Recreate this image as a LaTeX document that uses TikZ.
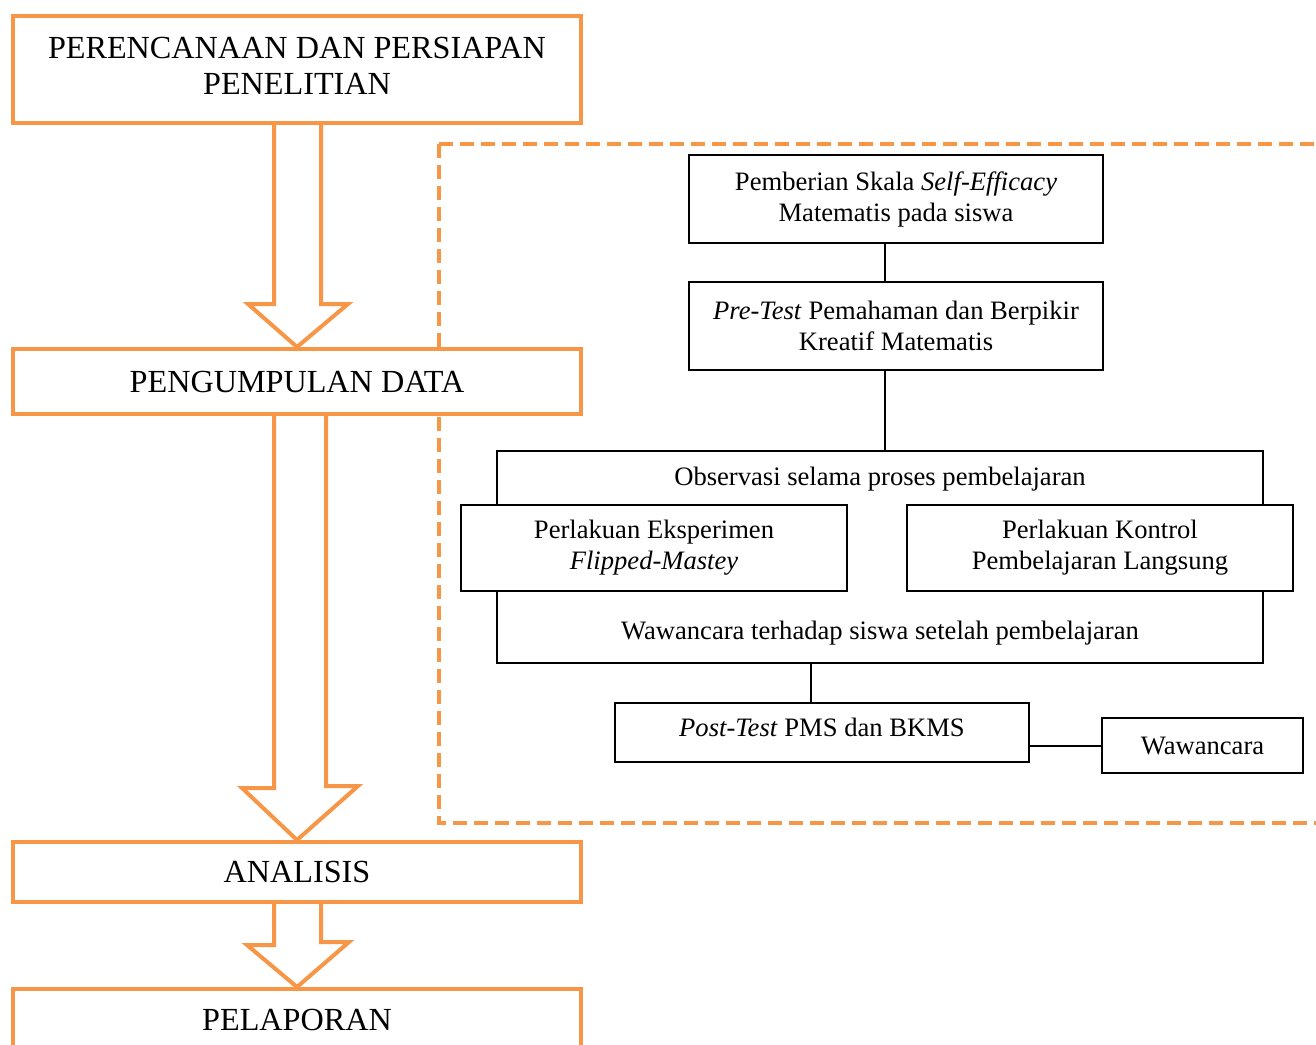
\documentclass[tikz,border=0pt]{standalone}
\usepackage{fontspec}
\setmainfont{Liberation Serif}
\usetikzlibrary{calc}
\definecolor{orangeline}{HTML}{F79646}
\tikzset{
  bigbox/.style={draw=orangeline, fill=white, line width=4pt, minimum width=568pt, align=center, inner sep=0pt,
    font=\fontsize{32.2}{36}\selectfont},
  smallbox/.style={draw=black, line width=2pt, align=center, inner sep=0pt, fill=white,
    font=\fontsize{26.6}{31}\selectfont},
  plain/.style={align=center, inner sep=0pt, font=\fontsize{26.6}{31}\selectfont},
  fatarrow/.style={draw=orangeline, line width=4pt, fill=white, line join=miter},
  conn/.style={draw=black, line width=1.5pt},
  dashbox/.style={draw=orangeline, line width=4pt, dash pattern=on 14pt off 7pt}
}
\begin{document}
\begin{tikzpicture}[x=1pt,y=-1pt]
\clip (0,0) rectangle (1316,1044);
\fill[white] (0,0) rectangle (1316,1044);

% dashed region
\draw[dashbox] (439,144) -- (1340,144) (439,144) -- (439,823) -- (1340,823);

% left column
\node[bigbox, minimum height=107pt, text depth=8pt] (b1) at (297,69.5) {PERENCANAAN DAN PERSIAPAN\\PENELITIAN};
\node[bigbox, minimum height=65pt] (b2) at (297,381.5) {PENGUMPULAN DATA};
\node[bigbox, minimum height=60pt] (b3) at (297,872) {ANALISIS};
\node[bigbox, minimum height=62pt] (b4) at (297,1020) {PELAPORAN};

% block arrows
\draw[fatarrow] ([xshift=-23pt]b1.south) -- ++(0,179) -- ++(-26,0) -- (b2.north) -- ([xshift=51pt,yshift=43pt]b2.north) -- ++(-27,0) -- ([xshift=24pt]b1.south);
\draw[fatarrow] ([xshift=-23pt]b2.south) -- ++(0,372) -- ++(-32,0) -- (b3.north) -- ([xshift=61pt,yshift=54pt]b3.north) -- ++(-32,0) -- ([xshift=29pt]b2.south);
\draw[fatarrow] ([xshift=-23pt]b3.south) -- ++(0,41) -- ++(-27,0) -- (b4.north) -- ([xshift=52pt,yshift=45pt]b4.north) -- ++(-28,0) -- ([xshift=24pt]b3.south);

% right flow
\node[smallbox, minimum width=414pt, minimum height=88pt] (A) at (896,199) {Pemberian Skala \textit{Self-Efficacy}\\Matematis pada siswa};
\node[smallbox, minimum width=414pt, minimum height=88pt] (B) at (896,326) {\textit{Pre-Test} Pemahaman dan Berpikir\\Kreatif Matematis};
\node[smallbox, minimum width=766pt, minimum height=212pt] (obsbox) at (880,557) {};
\node[plain] (obs) at (880,479) {Observasi selama proses pembelajaran};
\node[plain] (wawtext) at (880,633) {Wawancara terhadap siswa setelah pembelajaran};
\node[smallbox, minimum width=386pt, minimum height=86pt, text depth=7pt] (eksp) at (654,548) {Perlakuan Eksperimen\\\textit{Flipped-Mastey}};
\node[smallbox, minimum width=386pt, minimum height=86pt, text depth=7pt] (kontrol) at (1100,548) {Perlakuan Kontrol\\Pembelajaran Langsung};
\node[smallbox, minimum width=414pt, minimum height=59pt, text depth=10pt] (post) at (822,732.5) {\textit{Post-Test} PMS dan BKMS};
\node[smallbox, minimum width=201pt, minimum height=55pt] (waw) at (1202.5,745.5) {Wawancara};

\coordinate (l0) at ([xshift=-11pt]A.south);
\coordinate (l1) at ([xshift=-11pt]B.south);
\coordinate (l2) at ([xshift=-11pt]post.north);
\draw[conn] (l0) -- (l0 |- B.north);
\draw[conn] (l1) -- (l1 |- obsbox.north);
\draw[conn] (l2) -- (l2 |- obsbox.south);
\draw[conn, line width=2pt] (waw.west -| post.east) -- (waw.west);
\end{tikzpicture}
\end{document}
